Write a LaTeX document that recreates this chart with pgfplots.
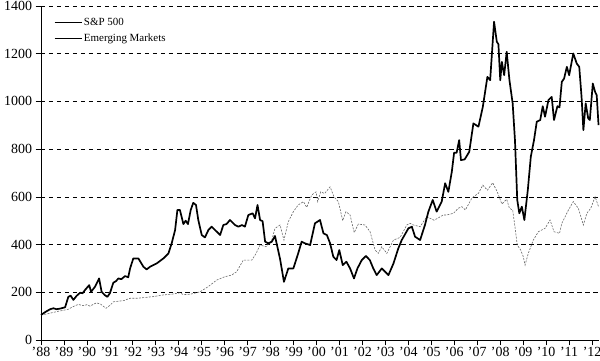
\documentclass[border=0pt]{standalone}
\usepackage{fontspec}
\setmainfont{Liberation Serif}
\usepackage{pgfplots}
\pgfplotsset{compat=1.18}
\begin{document}
\begin{tikzpicture}
\begin{axis}[
  at={(0,0)}, anchor=south west,
  scale only axis,
  width=558bp, height=334bp,
  xmin=1988, xmax=2012.3,
  ymin=0, ymax=1400,
  axis x line=bottom, axis y line=left,
  axis line style={-, black, line width=0.7pt},
  tick align=outside,
  major tick length=5.5bp,
  tick style={black, line width=0.7pt},
  xtick={1988,...,2012},
  xticklabels={'88,'89,'90,'91,'92,'93,'94,'95,'96,'97,'98,'99,'00,'01,'02,'03,'04,'05,'06,'07,'08,'09,'10,'11,'12},
  ytick={0,200,...,1400},
  /pgf/number format/assume math mode=true,
  /pgf/number format/1000 sep={},
  ticklabel style={font=\fontsize{14}{16}\selectfont},
  xticklabel style={yshift=1.5bp},
  ymajorgrids,
  grid style={black, line width=0.6pt, dash pattern=on 4.5bp off 3.5bp},
  clip=false,
  legend style={draw=none, fill=none, at={(0,1)}, anchor=north west,
    xshift=10bp, yshift=-8bp, font=\fontsize{11}{13}\selectfont,
    row sep=3bp},
  legend cell align=left,
  legend image code/.code={\draw[#1] (0bp,0bp) -- (20bp,0bp); \path (-2bp,0bp) -- (25bp,0bp);},
]
\addlegendimage{black, line width=0.6pt}
\addlegendentry{S\&P 500}
\addlegendimage{black, line width=0.8pt}
\addlegendentry{Emerging Markets}

% S&P 500 (thin dashed grey)
\addplot[forget plot, gray!80!black, line width=0.6pt, dash pattern=on 2bp off 1.3bp] coordinates {
(1988.0,105) (1988.3,110) (1988.68,119) (1989.0,125) (1989.19,129) (1989.4,140)
(1989.62,149) (1989.85,144) (1990.0,148) (1990.13,142) (1990.42,156) (1990.6,150)
(1990.83,133) (1991.0,145) (1991.15,160) (1991.4,163) (1991.6,165) (1991.88,175)
(1992.2,175) (1992.5,178) (1992.9,182) (1993.33,189) (1993.7,192) (1994.05,198)
(1994.2,190) (1994.5,192) (1994.93,202) (1995.3,225) (1995.65,251) (1996.0,265)
(1996.3,272) (1996.52,286) (1996.81,335) (1997.18,335) (1997.35,360) (1997.54,398)
(1997.8,391) (1998.05,419) (1998.19,468) (1998.41,482) (1998.58,419) (1998.77,496)
(1998.99,538) (1999.2,566) (1999.43,580) (1999.57,556) (1999.79,608) (1999.98,621)
(2000.05,580) (2000.18,621) (2000.35,614) (2000.59,642) (2000.76,600) (2000.95,580)
(2001.14,500) (2001.28,538) (2001.46,524) (2001.64,450) (2001.82,486) (2002.11,482)
(2002.33,454) (2002.55,377) (2002.69,363) (2002.84,391) (2003.06,363) (2003.2,390)
(2003.35,419) (2003.64,430) (2003.93,482) (2004.07,489) (2004.22,482) (2004.51,475)
(2004.8,517) (2005.12,502) (2005.52,524) (2005.67,524) (2005.96,531) (2006.17,552)
(2006.33,559) (2006.48,545) (2006.76,594) (2006.83,600) (2007.05,615) (2007.24,649)
(2007.44,628) (2007.67,659) (2007.87,621) (2008.07,570) (2008.28,590) (2008.4,552)
(2008.54,545) (2008.64,475) (2008.74,398) (2008.89,377) (2009.0,350) (2009.08,314)
(2009.22,363) (2009.44,419) (2009.66,454) (2009.95,468) (2010.17,503) (2010.34,454)
(2010.58,447) (2010.68,489) (2010.97,545) (2011.18,580) (2011.4,552) (2011.62,482)
(2011.77,531) (2011.94,552) (2012.13,600) (2012.28,559)
};

% Emerging Markets (thick black)
\addplot[forget plot, black, line width=1.7pt, line join=round] coordinates {
(1988.0,105) (1988.2,118) (1988.4,129) (1988.54,133) (1988.68,129) (1988.85,132)
(1989.05,137) (1989.19,181) (1989.29,186) (1989.41,168) (1989.55,185) (1989.70,198)
(1989.81,196) (1989.92,210) (1990.1,230) (1990.18,202) (1990.35,223) (1990.53,258)
(1990.64,202) (1990.78,188) (1990.89,181) (1991.0,196) (1991.15,240) (1991.27,247)
(1991.37,258) (1991.5,255) (1991.66,268) (1991.8,263) (1991.88,300) (1992.02,342)
(1992.24,342) (1992.46,307) (1992.6,296) (1992.75,307) (1993.04,321) (1993.33,342)
(1993.55,363) (1993.69,405) (1993.84,461) (1993.94,545) (1994.05,545) (1994.2,486)
(1994.3,500) (1994.4,486) (1994.52,545) (1994.63,575) (1994.75,566) (1994.85,503)
(1995.0,440) (1995.14,430) (1995.29,461) (1995.43,475) (1995.58,461) (1995.8,440)
(1995.94,482) (1996.08,486) (1996.23,503) (1996.45,482) (1996.6,475) (1996.75,482)
(1996.88,475) (1997.03,524) (1997.22,531) (1997.32,510) (1997.43,566) (1997.54,503)
(1997.65,498) (1997.76,412) (1997.9,405) (1998.05,412) (1998.19,436) (1998.41,340)
(1998.58,244) (1998.77,300) (1998.99,300) (1999.2,363) (1999.35,412) (1999.5,405)
(1999.72,398) (1999.93,489) (2000.15,503) (2000.3,447) (2000.45,440) (2000.59,405)
(2000.73,349) (2000.87,335) (2000.99,377) (2001.14,314) (2001.3,328) (2001.46,300)
(2001.63,258) (2001.78,300) (2001.97,335) (2002.15,352) (2002.32,335) (2002.47,300)
(2002.62,272) (2002.84,300) (2002.99,286) (2003.13,272) (2003.35,321) (2003.56,384)
(2003.71,419) (2004.0,468) (2004.15,475) (2004.29,433) (2004.51,419) (2004.72,482)
(2004.87,538) (2005.06,587) (2005.23,538) (2005.45,580) (2005.6,657) (2005.74,621)
(2005.89,705) (2005.99,785) (2006.1,785) (2006.21,838) (2006.29,754) (2006.45,757)
(2006.65,789) (2006.83,908) (2007.05,894) (2007.24,977) (2007.44,1103) (2007.56,1089)
(2007.73,1334) (2007.85,1250) (2007.92,1240) (2008.0,1089) (2008.07,1166) (2008.17,1110)
(2008.28,1208) (2008.4,1089) (2008.54,992) (2008.64,838) (2008.74,587) (2008.83,531)
(2008.94,559) (2009.05,503) (2009.2,629) (2009.33,768) (2009.47,838) (2009.59,915)
(2009.74,922) (2009.85,980) (2009.95,936) (2010.1,1006) (2010.24,1019) (2010.34,922)
(2010.49,980) (2010.58,975) (2010.68,1082) (2010.78,1096) (2010.9,1145) (2011.0,1110)
(2011.18,1201) (2011.33,1159) (2011.44,1145) (2011.54,1019) (2011.62,880) (2011.72,992)
(2011.83,929) (2011.9,922) (2012.03,1075) (2012.13,1040) (2012.2,1026) (2012.28,901)
};
\end{axis}
\pgfresetboundingbox
\path (-41bp,-21bp) rectangle (559bp,340bp);
\end{tikzpicture}
\end{document}
